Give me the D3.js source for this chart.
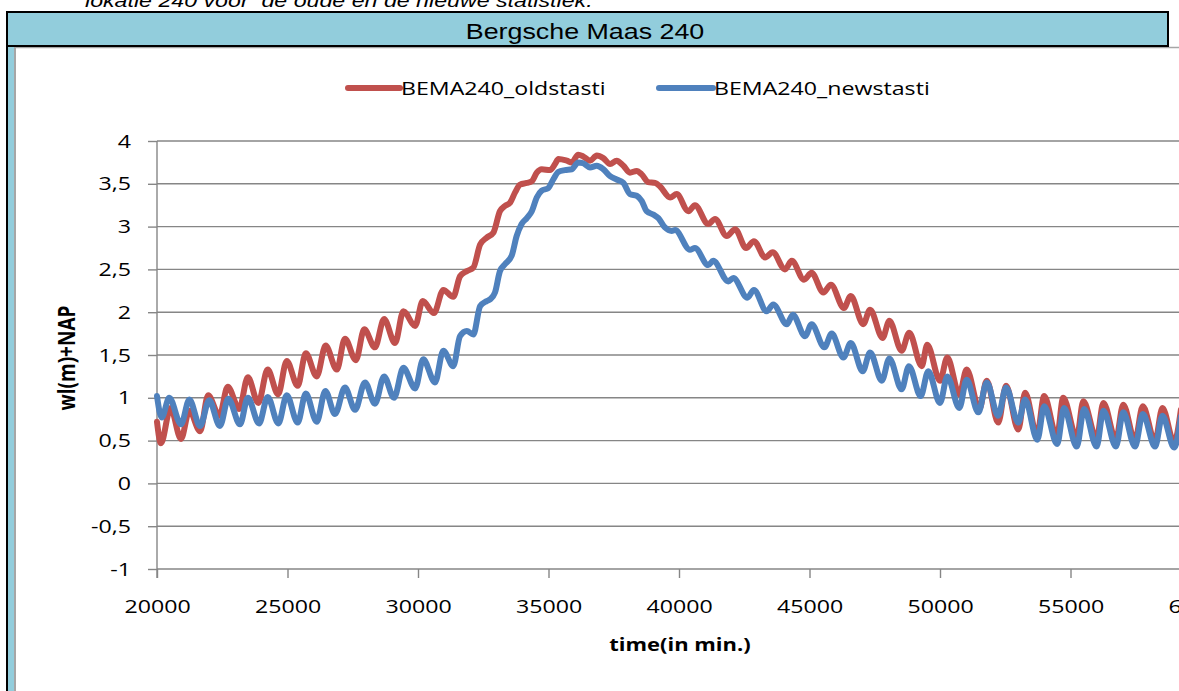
<!DOCTYPE html>
<html>
<head>
<meta charset="utf-8">
<script src="https://cdn.jsdelivr.net/npm/d3@7"></script>
<style>
  html, body { margin: 0; padding: 0; background: #fff; }
  svg { display: block; }
</style>
</head>
<body>
<script>
// ---------- data ----------
const captionText = "lokatie 240 voor  de oude en de nieuwe statistiek.";
const chartTitle = "Bergsche Maas 240";
const seriesNames = ["BEMA240_oldstasti", "BEMA240_newstasti"];
const xAxisTitle = "time(in min.)";
const yAxisTitle = "wl(m)+NAP";

const xTicks = [20000, 25000, 30000, 35000, 40000, 45000, 50000, 55000, 60000];
const xTickLabels = ["20000", "25000", "30000", "35000", "40000", "45000", "50000", "55000", "60000"];
const yTicks = [-1, -0.5, 0, 0.5, 1, 1.5, 2, 2.5, 3, 3.5, 4];
const yTickLabels = ["-1", "-0,5", "0", "0,5", "1", "1,5", "2", "2,5", "3", "3,5", "4"];

const oldTime = [
  20000,20150,20520,20920,21240,21650,21960,22390,22710,23150,
  23480,23880,24240,24640,24970,25390,25700,26120,26460,26890,
  27200,27620,27940,28350,28700,29120,29440,29890,30180,30610,
  30970,31350,31610,31870,32120,32380,32630,32890,33140,33330,
  33530,33720,33910,34170,34360,34550,34740,35060,35250,35380,
  35700,35890,36140,36330,36590,36850,37100,37360,37610,37870,
  38120,38380,38570,38820,39080,39270,39660,39910,40360,40610,
  41120,41380,41830,42150,42570,42870,43300,43590,44060,44320,
  44790,45080,45530,45820,46320,46580,47060,47320,47800,48060,
  48530,48820,49300,49510,50000,50280,50740,51020,51510,51790,
  52230,52530,53000,53260,53720,53990,54480,54720,55240,55490,
  56000,56260,56740,57020,57470,57770,58240,58520,58970,59230
];
const oldLevel = [
  0.72,0.47,0.88,0.52,0.85,0.61,1.03,0.79,1.13,0.87,
  1.24,0.94,1.33,1.04,1.43,1.14,1.52,1.25,1.61,1.33,
  1.69,1.44,1.80,1.59,1.92,1.64,2.01,1.84,2.13,1.99,
  2.26,2.18,2.42,2.48,2.52,2.79,2.87,2.93,3.18,3.24,
  3.28,3.40,3.49,3.51,3.53,3.63,3.67,3.66,3.73,3.79,
  3.77,3.75,3.84,3.82,3.77,3.83,3.80,3.73,3.77,3.71,
  3.63,3.65,3.61,3.52,3.51,3.47,3.34,3.38,3.18,3.25,
  3.03,3.09,2.89,2.97,2.75,2.83,2.64,2.70,2.50,2.60,
  2.38,2.46,2.23,2.32,2.05,2.19,1.86,2.03,1.70,1.90,
  1.55,1.76,1.37,1.62,1.20,1.47,1.04,1.33,0.87,1.20,
  0.71,1.14,0.63,1.06,0.56,1.02,0.54,1.00,0.53,0.96,
  0.52,0.94,0.51,0.92,0.50,0.90,0.49,0.88,0.48,0.86
];

const newTime = [
  20000,20180,20470,20920,21240,21650,22000,22410,22730,23180,
  23480,23910,24240,24650,24970,25390,25700,26120,26450,26820,
  27200,27590,27970,28350,28700,29080,29440,29890,30200,30650,
  30970,31350,31610,31870,32120,32380,32630,32760,32950,33140,
  33330,33590,33780,33970,34170,34360,34550,34740,34990,35180,
  35380,35630,35890,36140,36330,36590,36850,37100,37360,37610,
  37870,38120,38380,38570,38760,39020,39210,39460,39720,39850,
  40420,40610,41120,41310,41890,42080,42620,42870,43360,43610,
  44130,44360,44830,45080,45570,45850,46300,46580,47040,47320,
  47770,48060,48530,48810,49260,49550,50000,50280,50740,51020,
  51470,51790,52230,52530,53000,53260,53730,53990,54490,54750,
  55240,55520,56000,56260,56740,57020,57470,57770,58240,58520,
  58970,59230
];
const newLevel = [
  1.02,0.77,1.00,0.69,0.98,0.67,0.97,0.67,0.99,0.69,
  1.00,0.70,1.01,0.70,1.03,0.71,1.05,0.72,1.08,0.81,
  1.12,0.86,1.18,0.93,1.25,1.00,1.35,1.11,1.45,1.18,
  1.55,1.37,1.72,1.78,1.74,2.07,2.13,2.15,2.23,2.48,
  2.56,2.66,2.89,3.03,3.10,3.18,3.34,3.42,3.45,3.55,
  3.64,3.66,3.67,3.75,3.74,3.69,3.71,3.67,3.59,3.55,
  3.51,3.38,3.36,3.30,3.18,3.14,3.10,2.99,2.95,2.96,
  2.73,2.75,2.55,2.60,2.36,2.40,2.17,2.26,2.01,2.09,
  1.86,1.97,1.72,1.86,1.59,1.75,1.47,1.64,1.31,1.53,
  1.20,1.46,1.10,1.37,1.02,1.31,0.94,1.25,0.88,1.21,
  0.83,1.18,0.79,1.12,0.71,0.98,0.51,0.90,0.46,0.88,
  0.43,0.87,0.43,0.85,0.43,0.83,0.43,0.81,0.43,0.79,
  0.42,0.78
];

// ---------- drawing ----------
const W = 1179, H = 691;
const SX = 1.22;               // horizontal stretch of the original's lettering
const UI = "'Open Sans', 'DejaVu Sans', sans-serif";
const ARIAL = "'Liberation Sans', Arial, sans-serif";
const RED = "#C0504D", BLUE = "#4F81BD", GRID = "#868686", FRAME = "#92CDDC";

const svg = d3.select("body").append("svg").attr("width", W).attr("height", H);
svg.append("rect").attr("width", W).attr("height", H).attr("fill", "#fff");

// caption (cut off at the top, as in the original page)
svg.append("text")
  .attr("transform", `translate(85,7) scale(${SX},1)`)
  .attr("font-family", ARIAL).attr("font-style", "italic").attr("font-size", 19)
  .style("white-space", "pre").attr("fill", "#000")
  .text(captionText);

// frame on the left
svg.append("rect").attr("x", 8).attr("y", 46).attr("width", 6).attr("height", H - 46).attr("fill", FRAME);
svg.append("line").attr("x1", 7).attr("x2", 7).attr("y1", 12).attr("y2", H).attr("stroke", "#000").attr("stroke-width", 2);
svg.append("line").attr("x1", 15).attr("x2", 15).attr("y1", 47).attr("y2", H).attr("stroke", "#a6a6a6").attr("stroke-width", 2);
svg.append("line").attr("x1", 14).attr("x2", W).attr("y1", 47.5).attr("y2", 47.5).attr("stroke", "#a6a6a6").attr("stroke-width", 1.5);

// title box
svg.append("rect").attr("x", 7).attr("y", 12).attr("width", 1161).attr("height", 34)
  .attr("fill", FRAME).attr("stroke", "#000").attr("stroke-width", 2);
svg.append("text")
  .attr("transform", `translate(585,39) scale(${SX},1)`)
  .attr("text-anchor", "middle").attr("font-family", ARIAL).attr("font-size", 22).attr("fill", "#000")
  .text(chartTitle);

// scales
const x = d3.scaleLinear().domain([20000, 60000]).range([157, 1201]);
const y = d3.scaleLinear().domain([-1, 4]).range([569, 141]);

// gridlines
svg.append("g").selectAll("line").data(yTicks).join("line")
  .attr("x1", 157).attr("x2", W)
  .attr("y1", d => y(d)).attr("y2", d => y(d))
  .attr("stroke", GRID).attr("stroke-width", 1.4);

// y axis
const yAxis = d3.axisLeft(y).tickValues(yTicks)
  .tickFormat((d, i) => yTickLabels[i]).tickSize(9).tickSizeOuter(0);
const gy = svg.append("g").attr("transform", "translate(157,0)").call(yAxis);
gy.select(".domain").remove();
gy.selectAll(".tick line").attr("stroke", GRID).attr("stroke-width", 1.4);
gy.selectAll(".tick text")
  .attr("x", -26 / SX).attr("transform", `scale(${SX},1)`)
  .attr("font-family", UI).attr("font-size", 19).attr("fill", "#000");
svg.append("line").attr("x1", 157).attr("x2", 157).attr("y1", 141).attr("y2", 578)
  .attr("stroke", GRID).attr("stroke-width", 1.4);

// x axis
const xAxis = d3.axisBottom(x).tickValues(xTicks)
  .tickFormat((d, i) => xTickLabels[i]).tickSize(9).tickSizeOuter(0);
const gx = svg.append("g").attr("transform", "translate(0,569)").call(xAxis);
gx.select(".domain").remove();
gx.selectAll(".tick line").attr("stroke", GRID).attr("stroke-width", 1.4);
gx.selectAll(".tick text")
  .attr("y", 44).attr("dy", null).attr("transform", `scale(${SX},1)`)
  .attr("font-family", UI).attr("font-size", 19).attr("fill", "#000");

// series
const line = d3.line().x(d => x(d[0])).y(d => y(d[1])).curve(d3.curveMonotoneX);
const oldData = oldTime.map((t, i) => [t, oldLevel[i]]);
const newData = newTime.map((t, i) => [t, newLevel[i]]);
svg.append("path").datum(oldData).attr("d", line)
  .attr("fill", "none").attr("stroke", RED).attr("stroke-width", 6)
  .attr("stroke-linejoin", "round").attr("stroke-linecap", "round");
svg.append("path").datum(newData).attr("d", line)
  .attr("fill", "none").attr("stroke", BLUE).attr("stroke-width", 6)
  .attr("stroke-linejoin", "round").attr("stroke-linecap", "round");

// legend
const legend = [
  { name: seriesNames[0], color: RED, x1: 348, x2: 400 },
  { name: seriesNames[1], color: BLUE, x1: 659, x2: 713 }
];
legend.forEach(l => {
  svg.append("line").attr("x1", l.x1).attr("x2", l.x2).attr("y1", 88).attr("y2", 88)
    .attr("stroke", l.color).attr("stroke-width", 6).attr("stroke-linecap", "round");
  svg.append("text").attr("transform", `translate(${l.x2 + 1},95) scale(${SX},1)`)
    .attr("font-family", UI).attr("font-size", 19).attr("fill", "#000").text(l.name);
});

// axis titles
svg.append("text").attr("transform", `translate(680,651) scale(${SX},1)`)
  .attr("text-anchor", "middle").attr("font-family", UI).attr("font-weight", "bold")
  .attr("font-size", 18).attr("fill", "#000").text(xAxisTitle);
svg.append("text").attr("transform", `translate(75,358) scale(${SX},1) rotate(-90)`)
  .attr("text-anchor", "middle").attr("font-family", UI).attr("font-weight", "bold")
  .attr("font-size", 19).attr("fill", "#000").text(yAxisTitle);
</script>
</body>
</html>
